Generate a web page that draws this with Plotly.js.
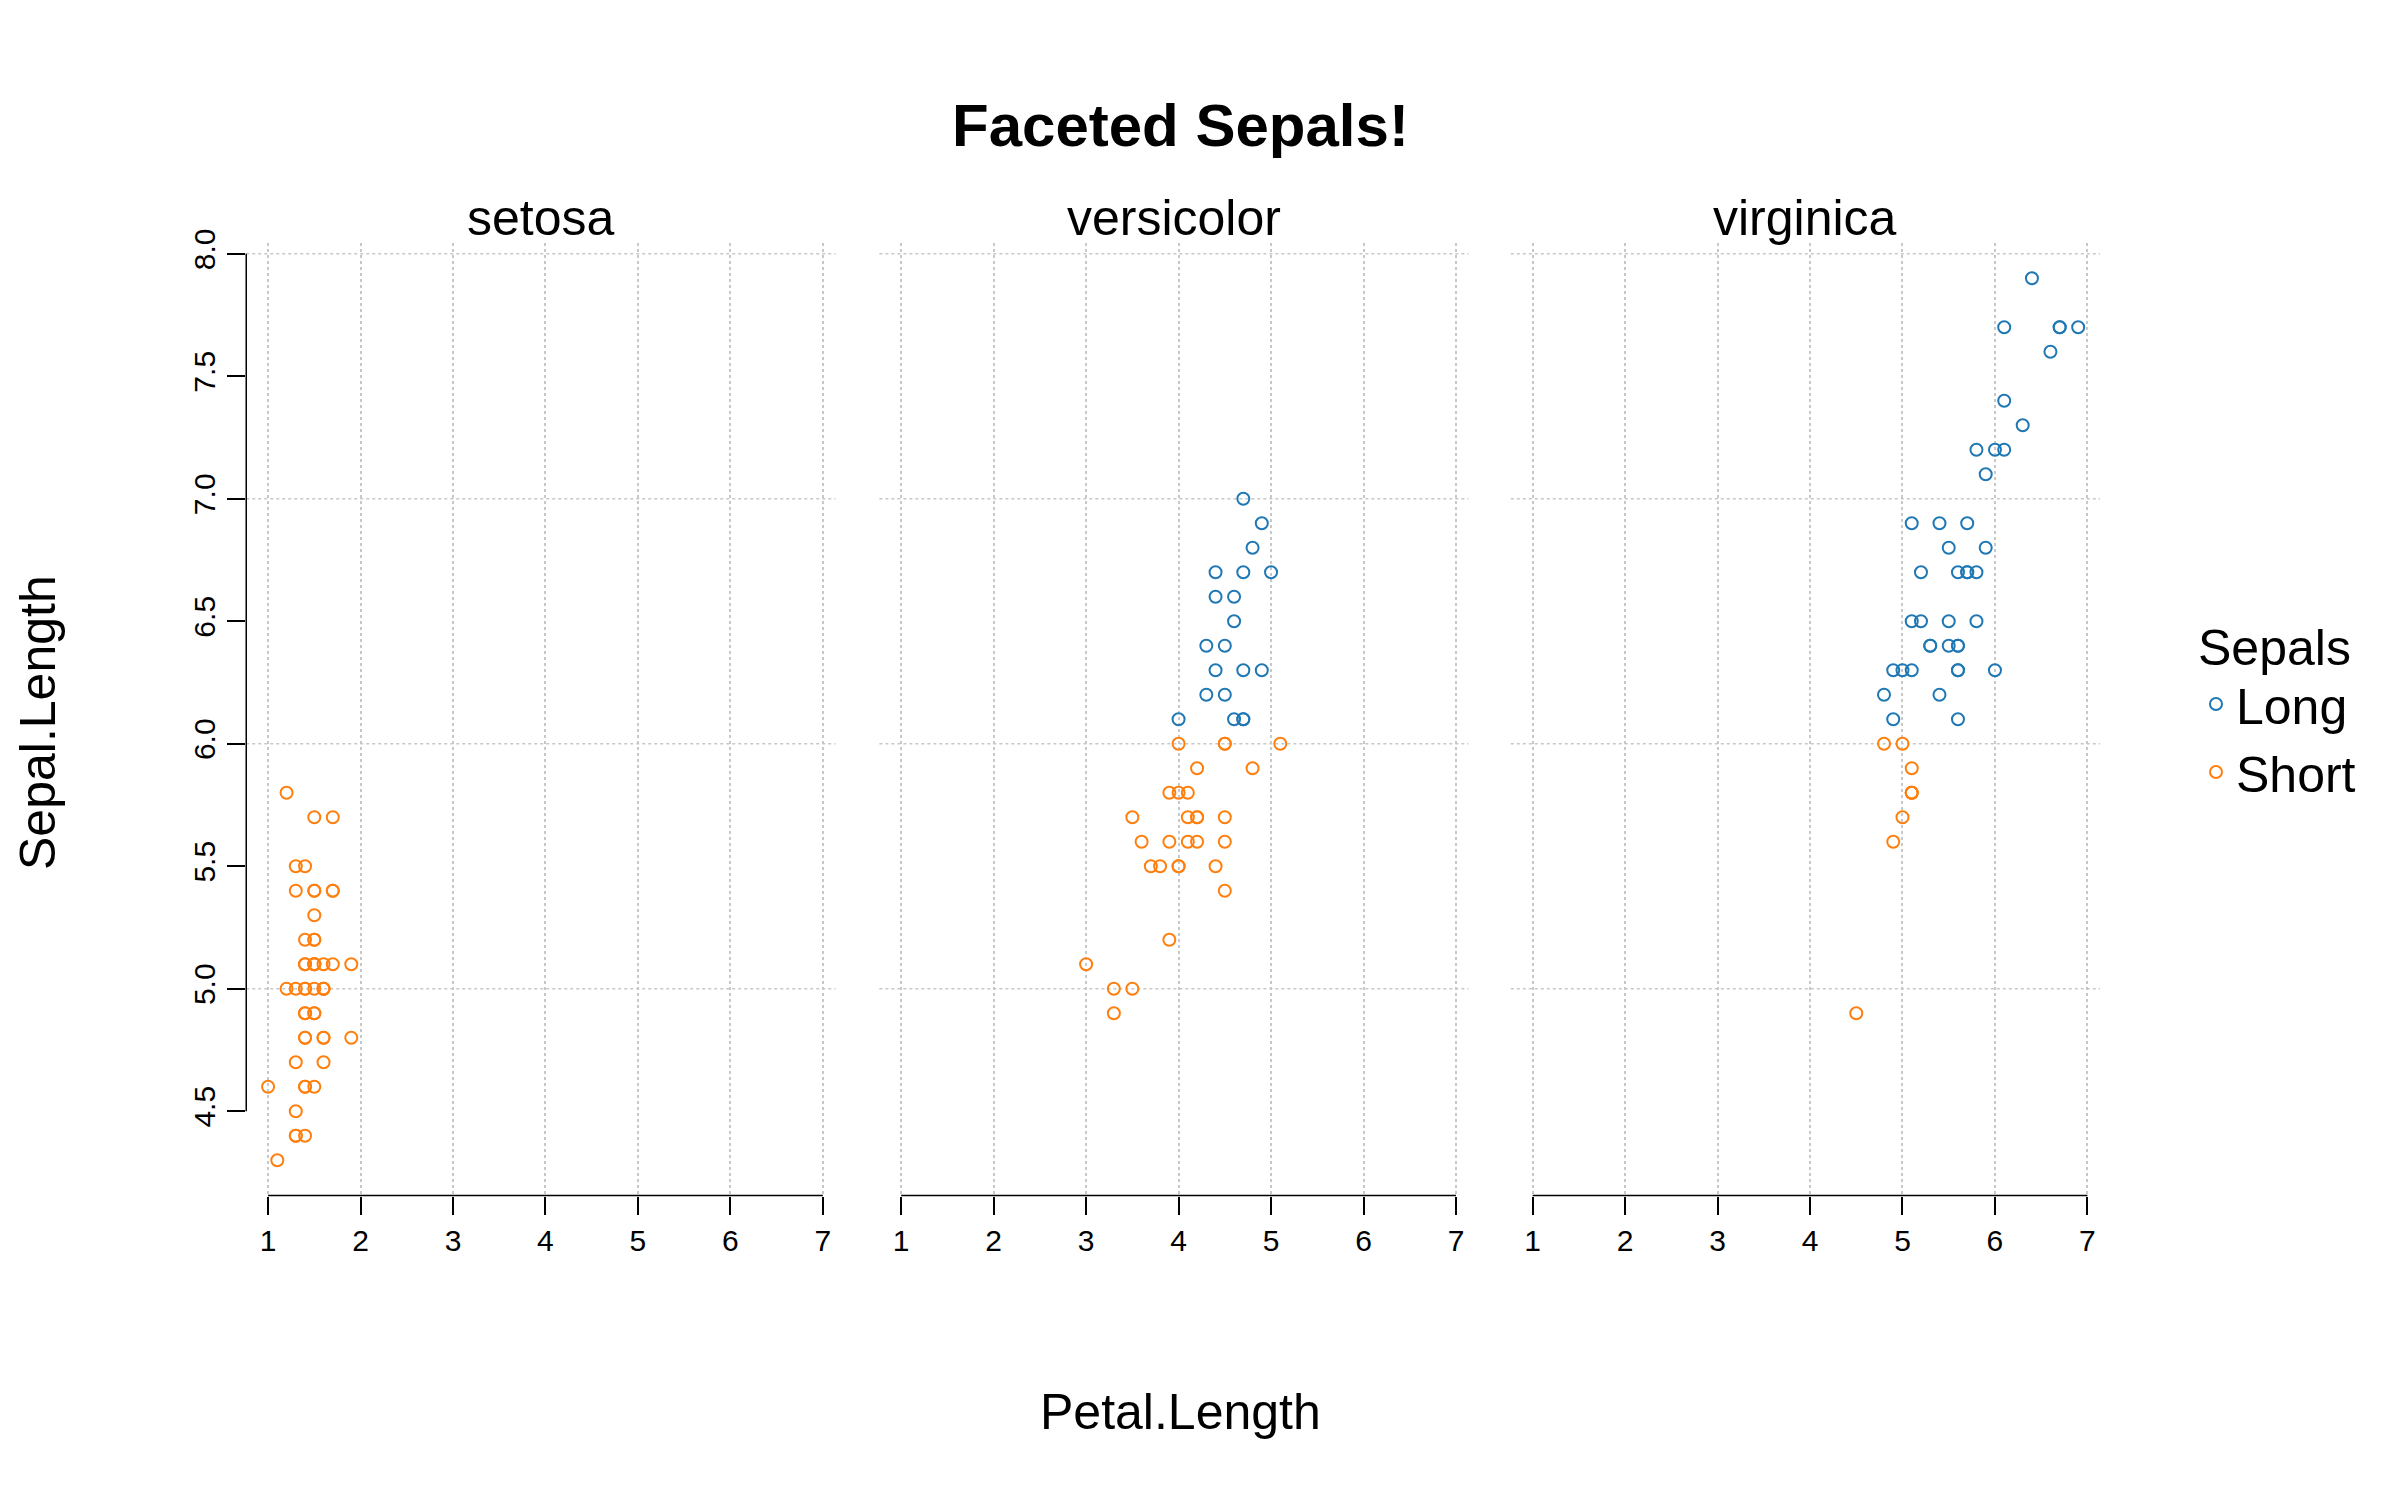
<!DOCTYPE html>
<html><head><meta charset="utf-8">
<script src="https://cdn.plot.ly/plotly-3.0.1.min.js"></script>
<style>body{margin:0}#c{width:2400px;height:1500px}</style></head>
<body><div id="c"></div>
<script>
const species = ["setosa","versicolor","virginica"];
const setosaSepal = [5.1,4.9,4.7,4.6,5.0,5.4,4.6,5.0,4.4,4.9,5.4,4.8,4.8,4.3,5.8,5.7,5.4,5.1,5.7,5.1,5.4,5.1,4.6,5.1,4.8,5.0,5.0,5.2,5.2,4.7,4.8,5.4,5.2,5.5,4.9,5.0,5.5,4.9,4.4,5.1,5.0,4.5,4.4,5.0,5.1,4.8,5.1,4.6,5.3,5.0];
const setosaPetal = [1.4,1.4,1.3,1.5,1.4,1.7,1.4,1.5,1.4,1.5,1.5,1.6,1.4,1.1,1.2,1.5,1.3,1.4,1.7,1.5,1.7,1.5,1.0,1.7,1.9,1.6,1.6,1.5,1.4,1.6,1.6,1.5,1.5,1.4,1.5,1.2,1.3,1.4,1.3,1.5,1.3,1.3,1.3,1.6,1.9,1.4,1.6,1.4,1.5,1.4];
const versicolorSepal = [7.0,6.4,6.9,5.5,6.5,5.7,6.3,4.9,6.6,5.2,5.0,5.9,6.0,6.1,5.6,6.7,5.6,5.8,6.2,5.6,5.9,6.1,6.3,6.1,6.4,6.6,6.8,6.7,6.0,5.7,5.5,5.5,5.8,6.0,5.4,6.0,6.7,6.3,5.6,5.5,5.5,6.1,5.8,5.0,5.6,5.7,5.7,6.2,5.1,5.7];
const versicolorPetal = [4.7,4.5,4.9,4.0,4.6,4.5,4.7,3.3,4.6,3.9,3.5,4.2,4.0,4.7,3.6,4.4,4.5,4.1,4.5,3.9,4.8,4.0,4.9,4.7,4.3,4.4,4.8,5.0,4.5,3.5,3.8,3.7,3.9,5.1,4.5,4.5,4.7,4.4,4.1,4.0,4.4,4.6,4.0,3.3,4.2,4.2,4.2,4.3,3.0,4.1];
const virginicaSepal = [6.3,5.8,7.1,6.3,6.5,7.6,4.9,7.3,6.7,7.2,6.5,6.4,6.8,5.7,5.8,6.4,6.5,7.7,7.7,6.0,6.9,5.6,7.7,6.3,6.7,7.2,6.2,6.1,6.4,7.2,7.4,7.9,6.4,6.3,6.1,7.7,6.3,6.4,6.0,6.9,6.7,6.9,5.8,6.8,6.7,6.7,6.3,6.5,6.2,5.9];
const virginicaPetal = [6.0,5.1,5.9,5.6,5.8,6.6,4.5,6.3,5.8,6.1,5.1,5.3,5.5,5.0,5.1,5.3,5.5,6.7,6.9,5.0,5.7,4.9,6.7,4.9,5.7,6.0,4.8,4.9,5.6,5.8,6.1,6.4,5.6,5.1,5.6,6.1,5.6,5.5,4.8,5.4,5.6,5.1,5.1,5.9,5.7,5.2,5.0,5.2,5.4,5.1];
const groups = ["Long","Short"];
const groupColors = {Long:"#1f77b4", Short:"#ff7f0e"};
const xTicks = [1,2,3,4,5,6,7];
const yTicks = [4.5,5.0,5.5,6.0,6.5,7.0,7.5,8.0];
const yTickText = ["4.5","5.0","5.5","6.0","6.5","7.0","7.5","8.0"];
const gridY = [5,6,7,8];

const sepals = [setosaSepal, versicolorSepal, virginicaSepal];
const petals = [setosaPetal, versicolorPetal, virginicaPetal];
const FONT = "Liberation Sans, Arial, sans-serif";
const domains = [[0.1026,0.3481],[0.3664,0.6119],[0.6295,0.875]];
const traces = [];
species.forEach((sp,i)=>{
  groups.forEach(g=>{
    const xs=[],ys=[];
    sepals[i].forEach((s,k)=>{ if((s>6)===(g==="Long")){xs.push(petals[i][k]);ys.push(s);} });
    traces.push({type:"scatter",mode:"markers",x:xs,y:ys,name:g,legendgroup:g,
      showlegend: i===1,
      xaxis: i?("x"+(i+1)):"x", yaxis: i?("y"+(i+1)):"y",
      marker:{symbol:"circle-open",size:12,color:groupColors[g],line:{width:2,color:groupColors[g]}}});
  });
});
const layout = {width:2400,height:1500,margin:{l:0,r:0,t:0,b:0},
  paper_bgcolor:"white",plot_bgcolor:"white",font:{family:FONT,color:"#000"},
  showlegend:true,
  legend:{x:0.915,y:0.6,xanchor:"left",yanchor:"top",font:{size:50},traceorder:"normal",
    title:{text:"Sepals",font:{size:50}},tracegroupgap:0,itemsizing:"constant"},
  shapes:[],annotations:[]};
species.forEach((sp,i)=>{
  const sx = i?String(i+1):"";
  layout["xaxis"+sx] = {domain:domains[i],range:[0.764,7.136],anchor:"y"+sx,
    tickvals:xTicks,ticktext:xTicks.map(String),ticks:"outside",ticklen:18,tickwidth:1.5,tickcolor:"#000",
    tickfont:{size:30},showline:false,zeroline:false,showgrid:true,griddash:"dot",gridcolor:"#c8c8c8",gridwidth:1.5};
  layout["yaxis"+sx] = {domain:[0.203,0.838],range:[4.156,8.044],anchor:"x"+sx,
    tickvals:yTicks,ticktext:yTickText,ticks:i?"":"outside",ticklen:18,tickwidth:1.5,tickcolor:"#000",
    showticklabels:i===0,tickangle:-90,tickfont:{size:30},showline:false,zeroline:false,showgrid:false};
  layout.shapes.push({type:"line",xref:"x"+sx,yref:"y"+sx+" domain",x0:1,x1:7,y0:0,y1:0,line:{color:"#000",width:1.5}});
  gridY.forEach(v=>layout.shapes.push({type:"line",xref:"x"+sx+" domain",yref:"y"+sx,x0:0,x1:1,y0:v,y1:v,layer:"below",line:{color:"#c8c8c8",width:1.5,dash:"dot"}}));
  layout.annotations.push({text:sp,xref:"paper",yref:"paper",x:(domains[i][0]+domains[i][1])/2,y:1-218/1500,xanchor:"center",yanchor:"middle",showarrow:false,font:{size:50}});
});
layout.shapes.push({type:"line",xref:"x domain",yref:"y",x0:0,x1:0,y0:4.5,y1:8.0,line:{color:"#000",width:1.5}});
layout.annotations.push({text:"<b>Faceted Sepals!</b>",xref:"paper",yref:"paper",x:0.4917,y:1-126/1500,xanchor:"center",yanchor:"middle",showarrow:false,font:{size:60}});
layout.annotations.push({text:"Petal.Length",xref:"paper",yref:"paper",x:0.4917,y:1-1412/1500,xanchor:"center",yanchor:"middle",showarrow:false,font:{size:50}});
layout.annotations.push({text:"Sepal.Length",xref:"paper",yref:"paper",x:38/2400,y:1-723/1500,xanchor:"center",yanchor:"middle",textangle:-90,showarrow:false,font:{size:50}});
Plotly.newPlot("c",traces,layout,{displayModeBar:false});
</script></body></html>
